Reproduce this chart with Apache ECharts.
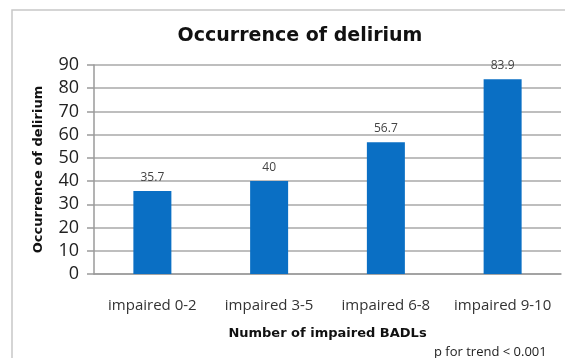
<!DOCTYPE html>
<html>
<head>
<meta charset="utf-8">
<script src="https://cdn.jsdelivr.net/npm/echarts@6/dist/echarts.min.js"></script>
<style>
  html, body { margin: 0; padding: 0; background: #fff; }
  #chart { width: 565px; height: 358px; }
</style>
</head>
<body>
<div id="chart"></div>
<script>
// Delirium occurrence by number of impaired basic activities of daily living
const categories = ['impaired 0-2', 'impaired 3-5', 'impaired 6-8', 'impaired 9-10'];
const occurrence = [35.7, 40, 56.7, 83.9];
const yTicks = [0, 10, 20, 30, 40, 50, 60, 70, 80, 90];

const chart = echarts.init(document.getElementById('chart'), null, { renderer: 'canvas' });
const boldFont = '"DejaVu Sans", Verdana, sans-serif';
const bodyFont = '"Open Sans", "Noto Sans", sans-serif';

chart.setOption({
  animation: false,
  backgroundColor: '#fff',
  graphic: [
    {
      type: 'rect',
      shape: { x: 12, y: 10, width: 560, height: 360 },
      style: { fill: 'none', stroke: '#c8c8c8', lineWidth: 1.5 },
      z: -1
    },
    {
      type: 'text',
      left: 434,
      top: 346,
      style: { text: 'p for trend < 0.001', fill: '#222', font: '13px ' + bodyFont }
    }
  ],
  title: {
    text: 'Occurrence of delirium',
    left: 295,
    textAlign: 'center',
    top: 22,
    textStyle: { fontFamily: boldFont, fontSize: 19, fontWeight: 'bold', color: '#111' }
  },
  grid: { left: 94, right: 4, top: 65, bottom: 84, containLabel: false },
  xAxis: {
    type: 'category',
    data: categories,
    name: 'Number of impaired BADLs',
    nameLocation: 'middle',
    nameGap: 53,
    nameTextStyle: { fontFamily: boldFont, fontSize: 13, fontWeight: 'bold', color: '#111' },
    axisLine: { lineStyle: { color: '#9a9a9a', width: 1.5 } },
    axisTick: { show: false },
    axisLabel: { interval: 0, fontFamily: bodyFont, fontSize: 15, color: '#333', margin: 24 }
  },
  yAxis: {
    type: 'value',
    min: yTicks[0],
    max: yTicks[yTicks.length - 1],
    interval: yTicks[1] - yTicks[0],
    name: 'Occurrence of delirium',
    nameLocation: 'middle',
    nameGap: 49,
    nameRotate: 90,
    nameTextStyle: { fontFamily: boldFont, fontSize: 13, fontWeight: 'bold', color: '#111' },
    axisLine: { show: true, lineStyle: { color: '#9a9a9a', width: 1.5 } },
    axisTick: { show: true, length: 7, lineStyle: { color: '#9a9a9a', width: 1.5 } },
    axisLabel: { fontFamily: bodyFont, fontSize: 18, color: '#222', margin: 15 },
    splitLine: { lineStyle: { color: '#a8a8a8', width: 1.5 } }
  },
  series: [{
    type: 'bar',
    data: occurrence,
    barWidth: 38,
    itemStyle: { color: '#0A6FC4' },
    label: {
      show: true,
      position: 'top',
      distance: 8,
      fontFamily: bodyFont,
      fontSize: 12,
      color: '#444'
    }
  }]
});
</script>
</body>
</html>
